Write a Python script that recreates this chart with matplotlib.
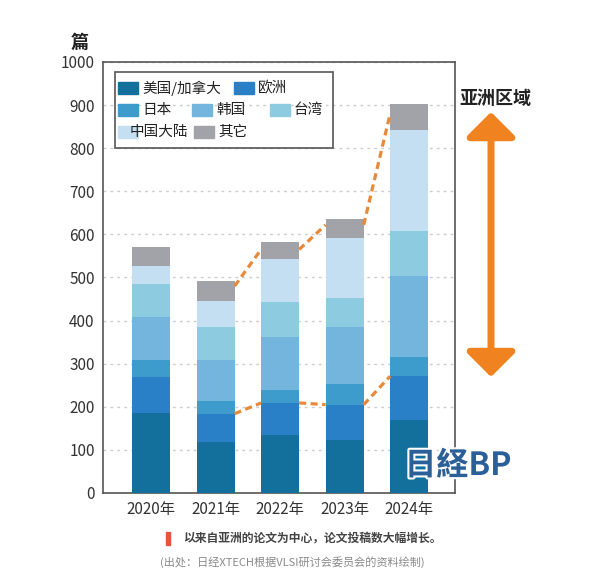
import numpy as np
import matplotlib.pyplot as plt
from matplotlib.patches import Rectangle, FancyArrowPatch
import matplotlib.patheffects as pe

plt.rcParams['font.family'] = ['Noto Sans CJK SC', 'DejaVu Sans']

years = ['2020年', '2021年', '2022年', '2023年', '2024年']
regions = ['美国/加拿大', '欧洲', '日本', '韩国', '台湾', '中国大陆', '其它']
us_ca = [185, 119, 134, 124, 170]
europe = [84, 65, 75, 81, 101]
japan = [39, 29, 31, 48, 45]
korea = [100, 96, 122, 132, 187]
taiwan = [77, 76, 81, 68, 105]
china = [41, 61, 99, 138, 235]
other = [45, 46, 41, 45, 59]
# orange guide lines, 2021..2024
upper_line = [480, 565, 622, 880]
lower_line = [184, 209, 205, 271]

series = [us_ca, europe, japan, korea, taiwan, china, other]
colors = ['#136f9c', '#2a80c6', '#3d9ccb', '#74b5de', '#8dcbe0', '#c4dff2', '#a2a3a8']

fig = plt.figure(figsize=(6, 5.76), dpi=100)
ax = fig.add_axes([0.1717, 0.1441, 0.5867, 0.7483])

x = np.arange(len(years))
w = 0.59
bottom = np.zeros(len(years))
for vals, c in zip(series, colors):
    ax.bar(x, vals, w, bottom=bottom, color=c, zorder=3)
    bottom += np.array(vals)

# dashed lines run from the right edge of one bar to the left edge of the next
for line in [upper_line, lower_line]:
    for i in range(len(line) - 1):
        x0 = x[i + 1] + w / 2
        x1 = x[i + 2] - w / 2
        ax.plot([x0, x1], [line[i], line[i + 1]], ls=(0, (2.2, 1.4)), color='#e8893a', lw=2.3, zorder=4)

ax.set_xlim(-0.744, 4.71)
ax.set_ylim(0, 1000)
ax.set_yticks(np.arange(0, 1001, 100))
ax.set_xticks(x)
ax.set_xticklabels(years)
ax.tick_params(length=0, labelsize=11, colors='#333333', pad=6)
ax.yaxis.grid(True, ls=(0, (2, 3)), color='#cccccc', lw=1, zorder=0)
for s in ax.spines.values():
    s.set_color('#555555')
    s.set_linewidth(1.2)

fig.text(0.133, 0.927, '篇', fontsize=13, fontweight='bold', color='#222222', ha='center', va='center')

# legend box
leg = Rectangle((115, 576 - 148), 218, 76, transform=None, fill=False, ec='#555555', lw=1.2, zorder=5)
fig.patches.append(leg)
items = [(0, 128, 88, '美国/加拿大'), (1, 244, 88, '欧洲'),
         (2, 128, 110, '日本'), (3, 202, 110, '韩国'), (4, 280, 110, '台湾'),
         (5, 128, 132, '中国大陆'), (6, 204, 132, '其它')]
for k, px, py, lab in items:
    fig.patches.append(Rectangle((px - 10, 576 - py - 6), 20, 12, transform=None, color=colors[k]))
    tx = px + 14 if k != 5 else px + 2
    fig.text(tx / 600, 1 - py / 576, lab, fontsize=10.5, color='#222222', va='center', ha='left')

# Asia region arrow
fig.text(495 / 600, 1 - 98 / 576, '亚洲区域', fontsize=13, fontweight='bold', color='#222222', ha='center', va='center')
arr = FancyArrowPatch((491, 576 - 112), (491, 576 - 377), transform=None,
                      arrowstyle='<|-|>,head_length=15,head_width=15',
                      color='#f08220', lw=5, mutation_scale=1, shrinkA=0, shrinkB=0)
fig.patches.append(arr)

# watermark
fig.text(458 / 600, 1 - 466 / 576, '日経BP', fontsize=23, fontweight='bold', color='#2a5f98', ha='center', va='center',
         path_effects=[pe.withStroke(linewidth=3, foreground='white')])

# captions
fig.patches.append(Rectangle((166, 576 - 545), 4, 13, transform=None, color='#e8533a'))
fig.text(183 / 600, 1 - 538 / 576, '以来自亚洲的论文为中心，论文投稿数大幅增长。', fontsize=8.5, fontweight='bold', color='#444444', va='center')
fig.text(160 / 600, 1 - 562 / 576, '(出处：日经XTECH根据VLSI研讨会委员会的资料绘制)', fontsize=8, color='#888888', va='center')

fig.savefig('out.png', dpi=100)
